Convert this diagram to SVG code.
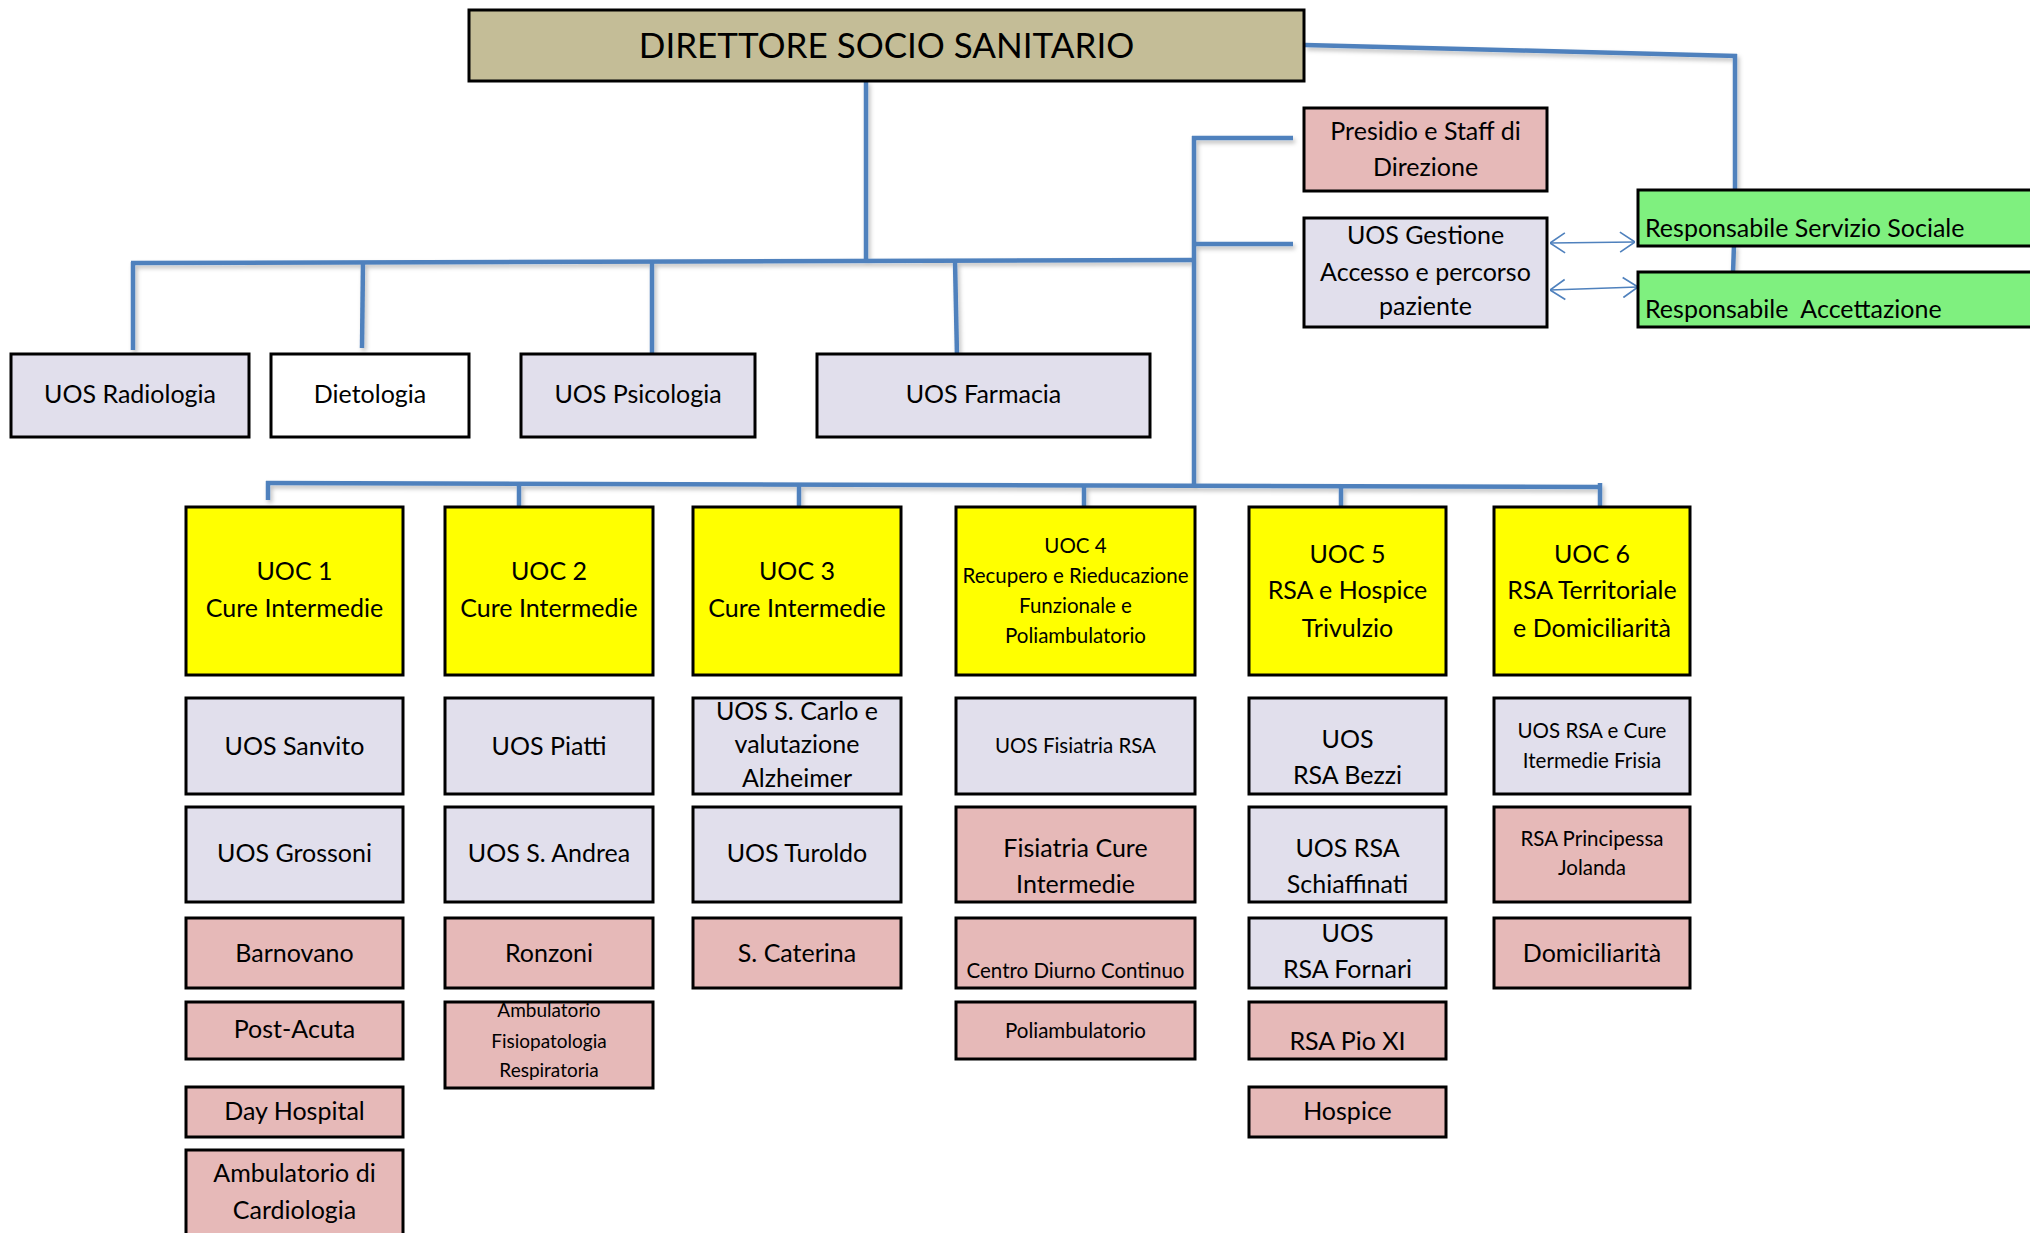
<svg xmlns="http://www.w3.org/2000/svg" width="2030" height="1233" viewBox="0 0 2030 1233">
<style>
.box{stroke:#000;stroke-width:3}
.lav{fill:#E1DFEC}
.pink{fill:#E6B9B8}
.yel{fill:#FFFF00}
.grn{fill:#7FF07F}
.wht{fill:#FFFFFF}
.tan{fill:#C4BD97}
text{font-family:Lato,"Open Sans","Liberation Sans",sans-serif;fill:#000;text-anchor:middle;font-size:25px}
.s{font-size:20.5px}
.xs{font-size:19px}
.big{font-size:35px}
.l{text-anchor:start}
.conn{stroke:#4F81BD;stroke-width:4.5;fill:none}
.thin{stroke:#4F81BD;stroke-width:1.6;fill:none}
</style>
<defs>
<filter id="sh" x="-5%" y="-5%" width="110%" height="110%">
<feDropShadow dx="2" dy="3" stdDeviation="2" flood-color="#000" flood-opacity="0.25"/>
</filter>
<marker id="ah" markerUnits="userSpaceOnUse" viewBox="0 0 16 22" refX="16" refY="11" markerWidth="16" markerHeight="22" orient="auto-start-reverse">
<path d="M1,1 L16,11 L1,21" fill="none" stroke="#4F81BD" stroke-width="1.6"/>
</marker>
</defs>
<rect width="2030" height="1233" fill="#FFFFFF"/>

<g id="connectors">
<g filter="url(#sh)">
<path class="conn" d="M866,81 V261"/>
<path class="conn" d="M131,263 L1196,260"/>
<path class="conn" d="M133,262 V350"/>
<path class="conn" d="M363,262 L362,348"/>
<path class="conn" d="M652,262 V354"/>
<path class="conn" d="M955,261 L957,357"/>
<path class="conn" d="M1194,136 V486"/>
<path class="conn" d="M1192,138 H1293"/>
<path class="conn" d="M1194,244 H1293"/>
<path class="conn" d="M1305,45 L1737,56"/>
<path class="conn" d="M1735,54 V217"/>
<path class="conn" d="M1734,245 L1733,273"/>
<path class="conn" d="M266,483 L1602,487"/>
<path class="conn" d="M268,481 V500"/>
<path class="conn" d="M519,484 V507"/>
<path class="conn" d="M799,484 V507"/>
<path class="conn" d="M1084,485 V507"/>
<path class="conn" d="M1341,486 V507"/>
<path class="conn" d="M1600,483 V507"/>
</g>
<path class="thin" d="M1550,243 L1635,242" marker-start="url(#ah)" marker-end="url(#ah)"/>
<path class="thin" d="M1550,290 L1638,287" marker-start="url(#ah)" marker-end="url(#ah)"/>
</g>

<g id="direttore"><rect class="box tan" x="469" y="10" width="835" height="71"/><text class="big" x="886.5" y="58">DIRETTORE SOCIO SANITARIO</text></g>
<g id="presidio"><rect class="box pink" x="1304" y="108" width="243" height="83"/><text x="1425.5" y="140">Presidio e Staff di</text><text x="1425.5" y="176">Direzione</text></g>
<g id="gestione"><rect class="box lav" x="1304" y="218" width="243" height="109"/><text x="1425.5" y="244">UOS Gestione</text><text x="1425.5" y="281">Accesso e percorso</text><text x="1425.5" y="315">paziente</text></g>
<g id="servizio-sociale"><rect class="box grn" x="1638" y="190" width="400" height="56"/><text class="l" x="1645" y="237">Responsabile Servizio Sociale</text></g>
<g id="accettazione"><rect class="box grn" x="1638" y="272" width="400" height="55"/><text class="l" x="1645" y="318" style="white-space:pre">Responsabile  Accettazione</text></g>

<g id="radiologia"><rect class="box lav" x="11" y="354" width="238" height="83"/><text x="130" y="403">UOS Radiologia</text></g>
<g id="dietologia"><rect class="box wht" x="271" y="354" width="198" height="83"/><text x="370" y="403">Dietologia</text></g>
<g id="psicologia"><rect class="box lav" x="521" y="354" width="234" height="83"/><text x="638" y="403">UOS Psicologia</text></g>
<g id="farmacia"><rect class="box lav" x="817" y="354" width="333" height="83"/><text x="983.5" y="403">UOS Farmacia</text></g>

<g id="uoc1"><rect class="box yel" x="186" y="507" width="217" height="168"/><text x="294.5" y="580">UOC 1</text><text x="294.5" y="617">Cure Intermedie</text></g>
<g id="uoc2"><rect class="box yel" x="445" y="507" width="208" height="168"/><text x="549" y="580">UOC 2</text><text x="549" y="617">Cure Intermedie</text></g>
<g id="uoc3"><rect class="box yel" x="693" y="507" width="208" height="168"/><text x="797" y="580">UOC 3</text><text x="797" y="617">Cure Intermedie</text></g>
<g id="uoc4"><rect class="box yel" x="956" y="507" width="239" height="168"/><text class="s" x="1075.5" y="553">UOC 4</text><text class="s" x="1075.5" y="583">Recupero e Rieducazione</text><text class="s" x="1075.5" y="613">Funzionale e</text><text class="s" x="1075.5" y="643">Poliambulatorio</text></g>
<g id="uoc5"><rect class="box yel" x="1249" y="507" width="197" height="168"/><text x="1347.5" y="563">UOC 5</text><text x="1347.5" y="599">RSA e Hospice</text><text x="1347.5" y="637">Trivulzio</text></g>
<g id="uoc6"><rect class="box yel" x="1494" y="507" width="196" height="168"/><text x="1592" y="563">UOC 6</text><text x="1592" y="599">RSA Territoriale</text><text x="1592" y="637">e Domiciliarità</text></g>

<g id="sanvito"><rect class="box lav" x="186" y="698" width="217" height="96"/><text x="294.5" y="755">UOS Sanvito</text></g>
<g id="grossoni"><rect class="box lav" x="186" y="807" width="217" height="95"/><text x="294.5" y="862">UOS Grossoni</text></g>
<g id="barnovano"><rect class="box pink" x="186" y="918" width="217" height="70"/><text x="294.5" y="962">Barnovano</text></g>
<g id="post-acuta"><rect class="box pink" x="186" y="1002" width="217" height="57"/><text x="294.5" y="1038">Post-Acuta</text></g>
<g id="day-hospital"><rect class="box pink" x="186" y="1087" width="217" height="50"/><text x="294.5" y="1120">Day Hospital</text></g>
<g id="cardiologia"><rect class="box pink" x="186" y="1150" width="217" height="95"/><text x="294.5" y="1182">Ambulatorio di</text><text x="294.5" y="1219">Cardiologia</text></g>

<g id="piatti"><rect class="box lav" x="445" y="698" width="208" height="96"/><text x="549" y="755">UOS Piatti</text></g>
<g id="s-andrea"><rect class="box lav" x="445" y="807" width="208" height="95"/><text x="549" y="862">UOS S. Andrea</text></g>
<g id="ronzoni"><rect class="box pink" x="445" y="918" width="208" height="70"/><text x="549" y="962">Ronzoni</text></g>
<g id="fisiopatologia"><rect class="box pink" x="445" y="1002" width="208" height="86"/><text class="xs" x="549" y="1017">Ambulatorio</text><text class="xs" x="549" y="1048">Fisiopatologia</text><text class="xs" x="549" y="1077">Respiratoria</text></g>

<g id="s-carlo"><rect class="box lav" x="693" y="698" width="208" height="96"/><text x="797" y="720">UOS S. Carlo e</text><text x="797" y="753">valutazione</text><text x="797" y="787">Alzheimer</text></g>
<g id="turoldo"><rect class="box lav" x="693" y="807" width="208" height="95"/><text x="797" y="862">UOS Turoldo</text></g>
<g id="s-caterina"><rect class="box pink" x="693" y="918" width="208" height="70"/><text x="797" y="962">S. Caterina</text></g>

<g id="fisiatria-rsa"><rect class="box lav" x="956" y="698" width="239" height="96"/><text class="s" x="1075.5" y="753">UOS Fisiatria RSA</text></g>
<g id="fisiatria-cure"><rect class="box pink" x="956" y="807" width="239" height="95"/><text x="1075.5" y="857">Fisiatria Cure</text><text x="1075.5" y="893">Intermedie</text></g>
<g id="centro-diurno"><rect class="box pink" x="956" y="918" width="239" height="70"/><text class="s" x="1075.5" y="978">Centro Diurno Continuo</text></g>
<g id="poliambulatorio"><rect class="box pink" x="956" y="1002" width="239" height="57"/><text class="s" x="1075.5" y="1038">Poliambulatorio</text></g>

<g id="bezzi"><rect class="box lav" x="1249" y="698" width="197" height="96"/><text x="1347.5" y="748">UOS</text><text x="1347.5" y="784">RSA Bezzi</text></g>
<g id="schiaffinati"><rect class="box lav" x="1249" y="807" width="197" height="95"/><text x="1347.5" y="857">UOS RSA</text><text x="1347.5" y="893">Schiaffinati</text></g>
<g id="fornari"><rect class="box lav" x="1249" y="918" width="197" height="70"/><text x="1347.5" y="942">UOS</text><text x="1347.5" y="978">RSA Fornari</text></g>
<g id="pio-xi"><rect class="box pink" x="1249" y="1002" width="197" height="57"/><text x="1347.5" y="1050">RSA Pio XI</text></g>
<g id="hospice"><rect class="box pink" x="1249" y="1087" width="197" height="50"/><text x="1347.5" y="1120">Hospice</text></g>

<g id="frisia"><rect class="box lav" x="1494" y="698" width="196" height="96"/><text class="s" x="1592" y="738">UOS RSA e Cure</text><text class="s" x="1592" y="768">Itermedie Frisia</text></g>
<g id="principessa"><rect class="box pink" x="1494" y="807" width="196" height="95"/><text class="s" x="1592" y="846">RSA Principessa</text><text class="s" x="1592" y="875">Jolanda</text></g>
<g id="domiciliarita"><rect class="box pink" x="1494" y="918" width="196" height="70"/><text x="1592" y="962">Domiciliarità</text></g>
</svg>
